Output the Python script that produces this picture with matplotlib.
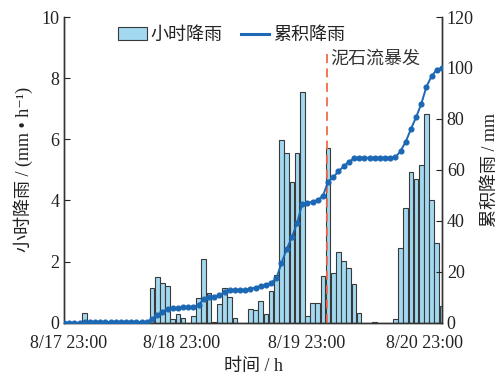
import matplotlib
matplotlib.use("Agg")
import matplotlib.pyplot as plt
from matplotlib.patches import Patch
from matplotlib.lines import Line2D
import numpy as np

plt.rcParams['font.family'] = ['Liberation Serif', 'Noto Sans CJK SC', 'DejaVu Serif']
plt.rcParams['font.size'] = 13

# hour index since 8/17 23:00
hours = list(range(74))

# hourly rainfall (mm/h)
hourly_rain = [0, 0, 0, 0, 0.33, 0, 0, 0, 0, 0,
               0, 0, 0, 0, 0, 0, 0, 1.15, 1.5, 1.31,
               1.2, 0.12, 0.3, 0.16, 0, 0.22, 0.82, 2.1, 0.98, 0.03,
               0.6, 1.13, 0.83, 0.16, 0, 0, 0.44, 0.42, 0.7, 0.3,
               1.04, 1.56, 5.99, 5.55, 4.59, 5.55, 7.56, 0.22, 0.66, 0.66,
               1.54, 5.72, 1.64, 2.3, 2.03, 1.8, 1.26, 0.31, 0, 0,
               0.02, 0, 0, 0, 0.11, 2.44, 3.75, 4.93, 4.7, 5.16,
               6.84, 4.02, 2.62, 0.55]

# cumulative rainfall (mm)
cum_rain = [0, 0, 0, 0, 0.3, 0.3, 0.3, 0.3, 0.3, 0.3,
            0.3, 0.3, 0.3, 0.3, 0.3, 0.3, 0.3, 1.5, 3.0, 4.3,
            5.5, 5.6, 5.9, 6.1, 6.1, 6.3, 7.1, 9.2, 10.2, 10.2,
            10.8, 12.0, 12.8, 12.9, 12.9, 12.9, 13.4, 13.8, 14.5, 14.8,
            15.8, 17.4, 23.4, 28.9, 33.5, 39.1, 46.6, 46.9, 47.5, 48.2,
            49.7, 55.4, 57.1, 59.4, 61.4, 63.2, 64.5, 64.8, 64.8, 64.8,
            64.8, 64.8, 64.8, 64.8, 64.9, 67.4, 71.1, 76.0, 80.7, 85.9,
            92.7, 96.8, 99.4, 99.9]

tick_pos = [0.8, 22.7, 46.8, 69.6]
tick_labels = ['8/17 23:00', '8/18 23:00', '8/19 23:00', '8/20 23:00']
event_hour = 50.8
event_label = '泥石流暴发'

bar_color = '#a2d8f0'
line_color = '#1c68b4'
text_color = '#222222'

fig = plt.figure(figsize=(5, 3.74), dpi=100)
ax = fig.add_axes([0.128, 0.137, 0.756, 0.8175])
ax2 = ax.twinx()

ax.bar(hours, hourly_rain, width=0.9, color=bar_color, edgecolor='#3a3a3a', linewidth=0.8, zorder=2)
ax.axvline(event_hour, ymin=0, ymax=0.883, color='#f26b4a', linestyle=(0, (5, 3)), linewidth=1.3, zorder=3)
ax.text(event_hour + 0.7, 8.63, event_label, va='center', ha='left', color='#333333', fontsize=13)

ax2.plot(hours, cum_rain, color=line_color, linewidth=1.4, marker='o', markersize=3.4, zorder=4)

ax.set_xlim(0, 73)
ax.set_ylim(0, 10)
ax2.set_ylim(0, 120)
ax.set_yticks([0, 2, 4, 6, 8, 10])
ax2.set_yticks([0, 20, 40, 60, 80, 100, 120])
ax.set_xticks(tick_pos)
ax.set_xticklabels(tick_labels)

ax.tick_params(axis='x', length=0, pad=9, colors=text_color)
ax.tick_params(axis='y', direction='in', length=4, colors=text_color)
ax2.tick_params(axis='y', direction='in', length=4, colors=text_color)

for a in (ax, ax2):
    a.spines['top'].set_visible(False)
    for s in ('left', 'right', 'bottom'):
        a.spines[s].set_color('#333333')
        a.spines[s].set_linewidth(1.0)

ax.set_xlabel('时间 / h', color=text_color, labelpad=4)
ax.set_ylabel('小时降雨 / (mm • h⁻¹)', color=text_color, labelpad=6)
ax2.set_ylabel('累积降雨 / mm', color=text_color, labelpad=6)

handles = [Patch(facecolor=bar_color, edgecolor='#3a3a3a', linewidth=0.8),
           Line2D([], [], color=line_color, linewidth=2.2)]
leg = ax2.legend(handles, ['小时降雨', '累积降雨'], loc='center left', bbox_to_anchor=(0.1, 0.94),
                 ncol=2, frameon=False, handlelength=1.6, handleheight=0.7,
                 handletextpad=0.2, columnspacing=1.0, fontsize=13)
for t in leg.get_texts():
    t.set_color(text_color)

fig.savefig('out.png', dpi=100)
